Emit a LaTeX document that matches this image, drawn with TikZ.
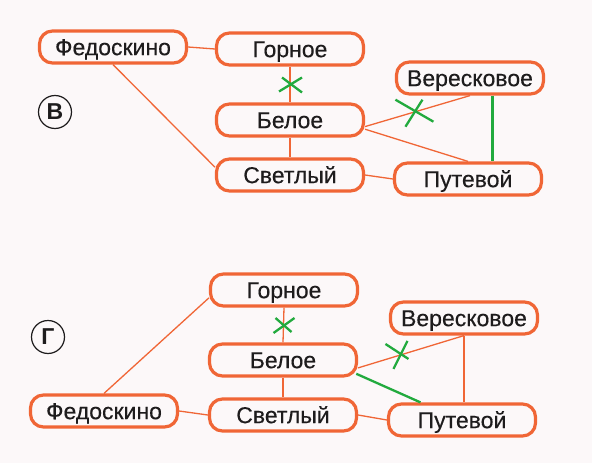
\documentclass[tikz,border=0pt]{standalone}
\usepackage{fontspec}
\setmainfont{Liberation Sans}
\newfontfamily\townfont[FakeBold=0.3]{Liberation Sans}
\usepackage{tikz}

\definecolor{roadorange}{RGB}{240,102,54}
\definecolor{markgreen}{RGB}{34,170,62}
\definecolor{ink}{RGB}{30,28,29}
\definecolor{paper}{RGB}{252,248,249}

\tikzset{
    town/.style={draw=roadorange, fill=paper, line width=3.2pt, rounded corners=13pt,
        minimum width=147pt, minimum height=32pt, inner sep=0pt,
        text height=16.3pt, text depth=0pt, font=\townfont\fontsize{23}{25}\selectfont, text=ink},
    road/.style={roadorange, line width=1.3pt},
    cut/.style={markgreen, line width=2.3pt},
    tag/.style={circle, draw=ink, line width=1.2pt, minimum size=33pt, inner sep=0pt,
        font=\fontsize{23}{25}\selectfont\bfseries, text=ink}
}

\begin{document}
\begin{tikzpicture}[x=1pt,y=-1pt]
            \fill[paper] (0,0) rectangle (592,463);
            \useasboundingbox (0,0) rectangle (592,463);
            % variant v
            \node[tag] (labV) at (55,112) {В};
            \node[town] (fedV) at (113,47) {Федоскино};
            \node[town] (gorV) at (290,49) {Горное};
            \node[town] (verV) at (470,78) {Вересковое};
            \node[town] (belV) at (290,120) {Белое};
            \node[town] (svetV) at (290,175) {Светлый};
            \node[town] (putV) at (468,179) {Путевой};
            \draw[road] (fedV.east) -- (gorV.west);
            \draw[road] (fedV.south) -- (svetV.174);
            \draw[road] (gorV.south) -- coordinate[pos=0.5] (cutGB) (belV.north);
            \draw[road] (belV.south) -- (svetV.north);
            \draw[road] (belV.-5) -- coordinate[pos=0.48] (cutBV) (verV.south);
            \draw[road] (belV.-7) -- (putV.north);
            \draw[road] (svetV.east) -- (putV.west);
            \draw[cut] (verV.-38) -- (verV.-38 |- putV.north);
            \draw[cut] (cutGB) ++(-11,7) -- ++(23,-14);
            \draw[cut] (cutGB) ++(-8,-7) -- ++(20,15);
            \draw[cut] (cutBV) ++(-20,-12) -- ++(38,22);
            \draw[cut] (cutBV) ++(-10,15) -- ++(17,-27);
            % variant g
            \node[tag] (labG) at (48,337) {Г};
            \node[town] (gorG) at (284,290) {Горное};
            \node[town] (verG) at (464,318) {Вересковое};
            \node[town] (belG) at (283,360) {Белое};
            \node[town] (fedG) at (104,411) {Федоскино};
            \node[town] (svetG) at (283,415) {Светлый};
            \node[town] (putG) at (462,420) {Путевой};
            \draw[road] (fedG.north) -- (gorG.186);
            \draw[road] (gorG.south) -- coordinate[pos=0.5] (cutGBg) (belG.north);
            \draw[road] (belG.south) -- (svetG.north);
            \draw[road] (fedG.east) -- (svetG.west);
            \draw[road] (svetG.east) -- (putG.west);
            \draw[road] (belG.-6) -- coordinate[pos=0.4] (cutBVg) (verG.south);
            \draw[road] (verG.south) -- (verG.south |- putG.north);
            \draw[cut, shorten <=-2pt] (belG.-11) -- (putG.157);
            \draw[cut] (cutGBg) ++(-10,8) -- ++(21,-15);
            \draw[cut] (cutGBg) ++(-8,-7) -- ++(16,14);
            \draw[cut] (cutBVg) ++(-15,-11) -- ++(23,15);
            \draw[cut] (cutBVg) ++(-7,14) -- ++(14,-28);
        \end{tikzpicture}
\end{document}
